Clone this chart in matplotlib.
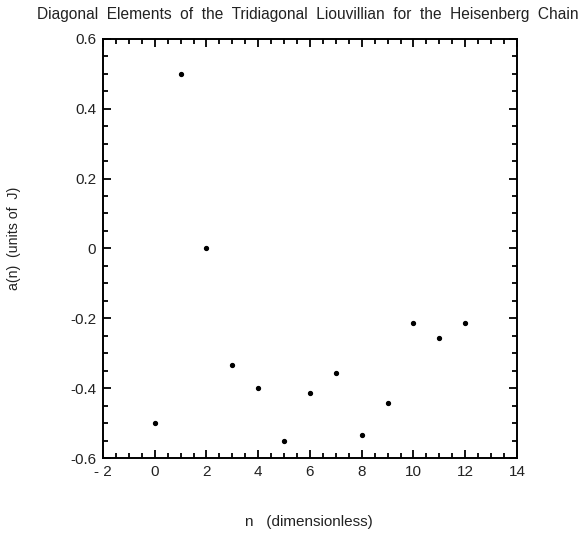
import matplotlib
matplotlib.use('Agg')
import matplotlib.pyplot as plt
from matplotlib.ticker import MultipleLocator, FixedLocator

plt.rcParams['font.family'] = ['Liberation Sans', 'DejaVu Sans']

n = [0, 1, 2, 3, 4, 5, 6, 7, 8, 9, 10, 11, 12]
a_n = [-0.5, 0.5, 0.0, -0.333, -0.4, -0.551, -0.413, -0.357, -0.533, -0.442, -0.214, -0.257, -0.214]

x_ticks = [-2, 0, 2, 4, 6, 8, 10, 12, 14]
x_labels = ['- 2', '0', '2', '4', '6', '8', '10', '12', '14']
y_ticks = [-0.6, -0.4, -0.2, 0, 0.2, 0.4, 0.6]
y_labels = ['-0.6', '-0.4', '-0.2', '0', '0.2', '0.4', '0.6']

fig = plt.figure(figsize=(5.83, 5.34), dpi=100)
ax = fig.add_axes([0.1767, 0.1423, 0.710, 0.785])

ax.plot(n, a_n, 'o', color='black', markersize=2.8)

ax.set_xlim(-2, 14)
ax.set_ylim(-0.6, 0.6)
ax.xaxis.set_major_locator(FixedLocator(x_ticks))
ax.set_xticklabels(x_labels)
ax.yaxis.set_major_locator(FixedLocator(y_ticks))
ax.set_yticklabels(y_labels)
ax.xaxis.set_minor_locator(MultipleLocator(0.5))
ax.yaxis.set_minor_locator(MultipleLocator(0.05))

ax.tick_params(which='both', direction='in', top=True, right=True,
               labelsize=11, width=1.3, color='black', labelcolor='#222222')
ax.tick_params(which='major', length=6, pad=5)
ax.tick_params(which='minor', length=3.5)
for s in ax.spines.values():
    s.set_linewidth(1.4)

titulo = 'Diagonal  Elements  of  the  Tridiagonal  Liouvillian  for  the  Heisenberg  Chain'
fig.text(0.528, 0.972, titulo, ha='center', va='center', fontsize=11.2, color='#222222')
fig.text(0.53, 0.0225, 'n   (dimensionless)', ha='center', va='center', fontsize=11, color='#222222')
fig.text(0.024, 0.554, 'a(n)  (units of  J)', ha='center', va='center', rotation=90,
         fontsize=10.2, color='#222222')

fig.savefig('out.png', dpi=100)
